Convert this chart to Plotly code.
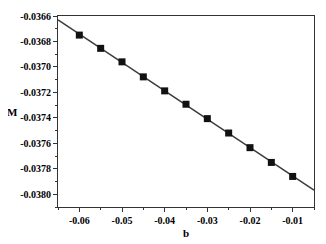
import numpy as np
import plotly.graph_objects as go

b_vals = [-0.060, -0.055, -0.050, -0.045, -0.040, -0.035, -0.030, -0.025, -0.020, -0.015, -0.010]
M_vals = [-0.03675, -0.036854, -0.03696, -0.037078, -0.037188, -0.037293,
          -0.037406, -0.037519, -0.037634, -0.03775, -0.03786]
x_ticks = [-0.06, -0.05, -0.04, -0.03, -0.02, -0.01]
y_ticks = [-0.0366, -0.0368, -0.0370, -0.0372, -0.0374, -0.0376, -0.0378, -0.0380]

x_range = [-0.065, -0.005]
y_range = [-0.0381, -0.0366]

coef = np.polyfit(b_vals, M_vals, 1)
fit_x = np.array(x_range)
fit_y = np.polyval(coef, fit_x)

# page body has an 8px default margin; compensate
OFF = 8
W, H = 326 - OFF, 244 - OFF
L, R, T, B = 58 - OFF, 12, 16 - OFF, 37
pw, ph = W - L - R, H - T - B

def px(x):
    return (x - OFF - L) / pw

def py(y):
    return 1 - (y - OFF - T) / ph

fig = go.Figure()
fig.add_trace(go.Scatter(x=fit_x, y=fit_y, mode="lines",
                         line=dict(color="#3a3a3a", width=1.5), showlegend=False))
fig.add_trace(go.Scatter(x=b_vals, y=M_vals, mode="markers",
                         marker=dict(symbol="square", size=7, color="#111111"),
                         showlegend=False))

fam = "Liberation Serif, Times New Roman, serif"
font = dict(family=fam, size=10, color="black")
fig.update_layout(
    width=W, height=H,
    margin=dict(l=L, r=R, t=T, b=B, autoexpand=False),
    paper_bgcolor="white", plot_bgcolor="white",
    font=font,
    xaxis=dict(range=x_range, tickvals=x_ticks,
               ticktext=["<b>%g</b>" % v for v in x_ticks],
               showgrid=False, zeroline=False, showline=True, mirror=True,
               linecolor="#333333", linewidth=1, ticks="outside", ticklen=4,
               tickcolor="#333333",
               minor=dict(dtick=0.005, tick0=-0.06, ticks="outside", ticklen=2, tickcolor="#333333")),
    yaxis=dict(range=y_range, tickvals=y_ticks,
               ticktext=["<b>%.4f</b>" % v for v in y_ticks],
               showgrid=False, zeroline=False, showline=True, mirror=True,
               linecolor="#333333", linewidth=1, ticks="outside", ticklen=4,
               tickcolor="#333333",
               minor=dict(dtick=0.0001, tick0=-0.0366, ticks="outside", ticklen=2, tickcolor="#333333")),
    annotations=[
        dict(text="<b>M</b>", x=px(12), y=py(112), xref="paper", yref="paper",
             xanchor="center", yanchor="middle", showarrow=False,
             font=dict(family=fam, size=11, color="black")),
        dict(text="<b>b</b>", x=px(186), y=py(233), xref="paper", yref="paper",
             xanchor="center", yanchor="middle", showarrow=False,
             font=dict(family=fam, size=11, color="black")),
    ],
)

fig.write_html("out.html")
